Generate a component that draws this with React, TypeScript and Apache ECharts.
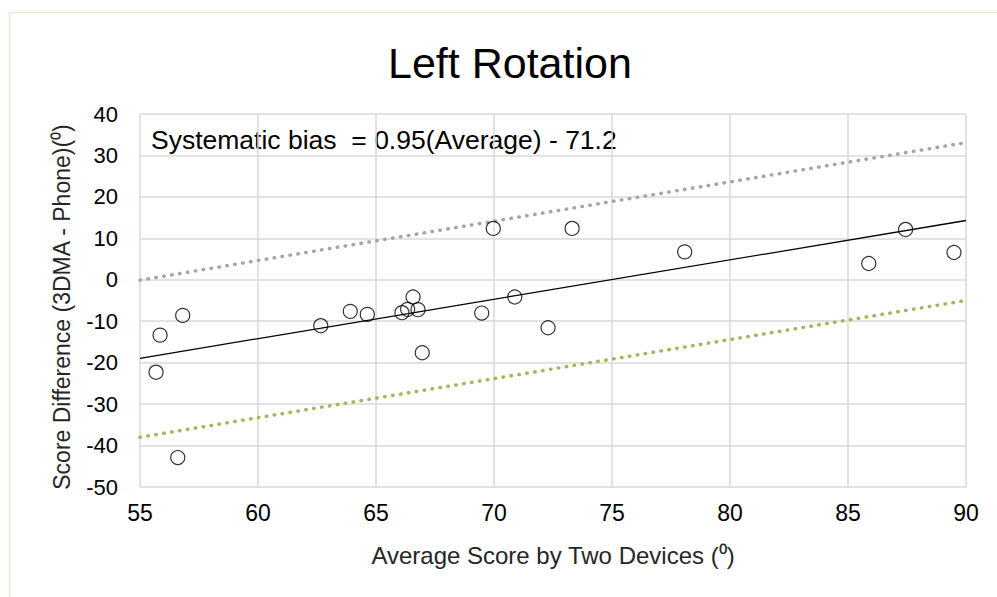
import React, { useEffect, useRef } from "react";
import * as echarts from "echarts";

const avgScores = [55.68, 55.85, 56.81, 56.6, 62.66, 63.91, 64.63, 66.1, 66.34, 66.57, 66.78, 66.96, 69.48, 69.97, 70.88, 72.29, 73.31, 78.08, 85.88, 87.44, 89.49];
const scoreDiffs = [-22.3, -13.36, -8.59, -42.9, -11.08, -7.62, -8.35, -7.94, -7.14, -4.16, -7.21, -17.6, -8.03, 12.39, -4.16, -11.57, 12.39, 6.73, 3.92, 12.15, 6.58];

const lineX = [55, 90];
const biasLine = [-18.95, 14.3];
const upperLoA = [-0.1, 33.1];
const lowerLoA = [-38.0, -5.0];

const xTicks = { min: 55, max: 90, step: 5 };
const yTicks = { min: -50, max: 40, step: 10 };

const titleText = "Left Rotation";
const xTitle = "Average Score by Two Devices (⁰)";
const yTitle = "Score Difference (3DMA - Phone)(⁰)";
const equationText = "Systematic bias  = 0.95(Average) - 71.2";

const FONT = "'Liberation Sans', Arial, sans-serif";

export default function App() {
  const ref = useRef<HTMLDivElement>(null);
  useEffect(() => {
    if (!ref.current) return;
    const chart = echarts.init(ref.current, null, { renderer: "svg" });
    const pts = avgScores.map((x, i) => [x, scoreDiffs[i]]);
    const mk = (ys: number[]) => lineX.map((x, i) => [x, ys[i]]);
    chart.setOption({
      animation: false,
      backgroundColor: "#ffffff",
      title: {
        text: titleText,
        left: 383,
        top: 36,
        textStyle: { fontFamily: FONT, fontSize: 43, fontWeight: "normal", color: "#000" },
      },
      grid: { left: 140, right: 31, top: 114, bottom: 110, containLabel: false },
      xAxis: {
        type: "value",
        min: xTicks.min,
        max: xTicks.max,
        interval: xTicks.step,
        name: xTitle,
        nameLocation: "middle",
        nameGap: 56,
        nameTextStyle: { fontFamily: FONT, fontSize: 24, color: "#262626" },
        axisLine: { show: false },
        axisTick: { show: false },
        axisLabel: { fontFamily: FONT, fontSize: 23, color: "#000", margin: 14 },
        splitLine: { show: true, lineStyle: { color: "#d9d9d9", width: 1.5 } },
      },
      yAxis: {
        type: "value",
        min: yTicks.min,
        max: yTicks.max,
        interval: yTicks.step,
        axisLine: { show: false },
        axisTick: { show: false },
        axisLabel: { fontFamily: FONT, fontSize: 22, color: "#000", margin: 22 },
        splitLine: { show: true, lineStyle: { color: "#d9d9d9", width: 1.5 } },
      },
      graphic: [
        {
          type: "rect",
          shape: { x: 9.5, y: 12.5, width: 1000, height: 600 },
          style: { fill: "none", stroke: "#ebe9d6", lineWidth: 1.5 },
          silent: true,
        },
        {
          type: "text",
          left: 151,
          top: 126,
          style: { text: equationText, fontFamily: FONT, fontSize: 26.5, fill: "#000" },
        },
        {
          type: "text",
          x: 62,
          y: 307,
          rotation: Math.PI / 2,
          style: {
            text: yTitle,
            fontFamily: FONT,
            fontSize: 23,
            fill: "#262626",
            align: "center",
            verticalAlign: "middle",
          },
        },
      ],
      series: [
        {
          type: "line",
          data: mk(upperLoA),
          symbol: "none",
          lineStyle: { color: "#a5a5a5", width: 3.5, type: [0.5, 7.5], cap: "round" },
          z: 2,
        },
        {
          type: "line",
          data: mk(lowerLoA),
          symbol: "none",
          lineStyle: { color: "#9bbb59", width: 3.5, type: [0.5, 7.5], cap: "round" },
          z: 2,
        },
        {
          type: "line",
          data: mk(biasLine),
          symbol: "none",
          lineStyle: { color: "#000", width: 1.3 },
          z: 3,
        },
        {
          type: "scatter",
          data: pts,
          symbol: "circle",
          symbolSize: 14,
          itemStyle: { color: "rgba(255,255,255,0)", borderColor: "#000", borderWidth: 1.2 },
          z: 4,
        },
      ],
    });
    return () => chart.dispose();
  }, []);
  return (
    <div
      ref={ref}
      style={{ position: "fixed", left: 0, top: 0, width: 997, height: 597, background: "#fff" }}
    />
  );
}
